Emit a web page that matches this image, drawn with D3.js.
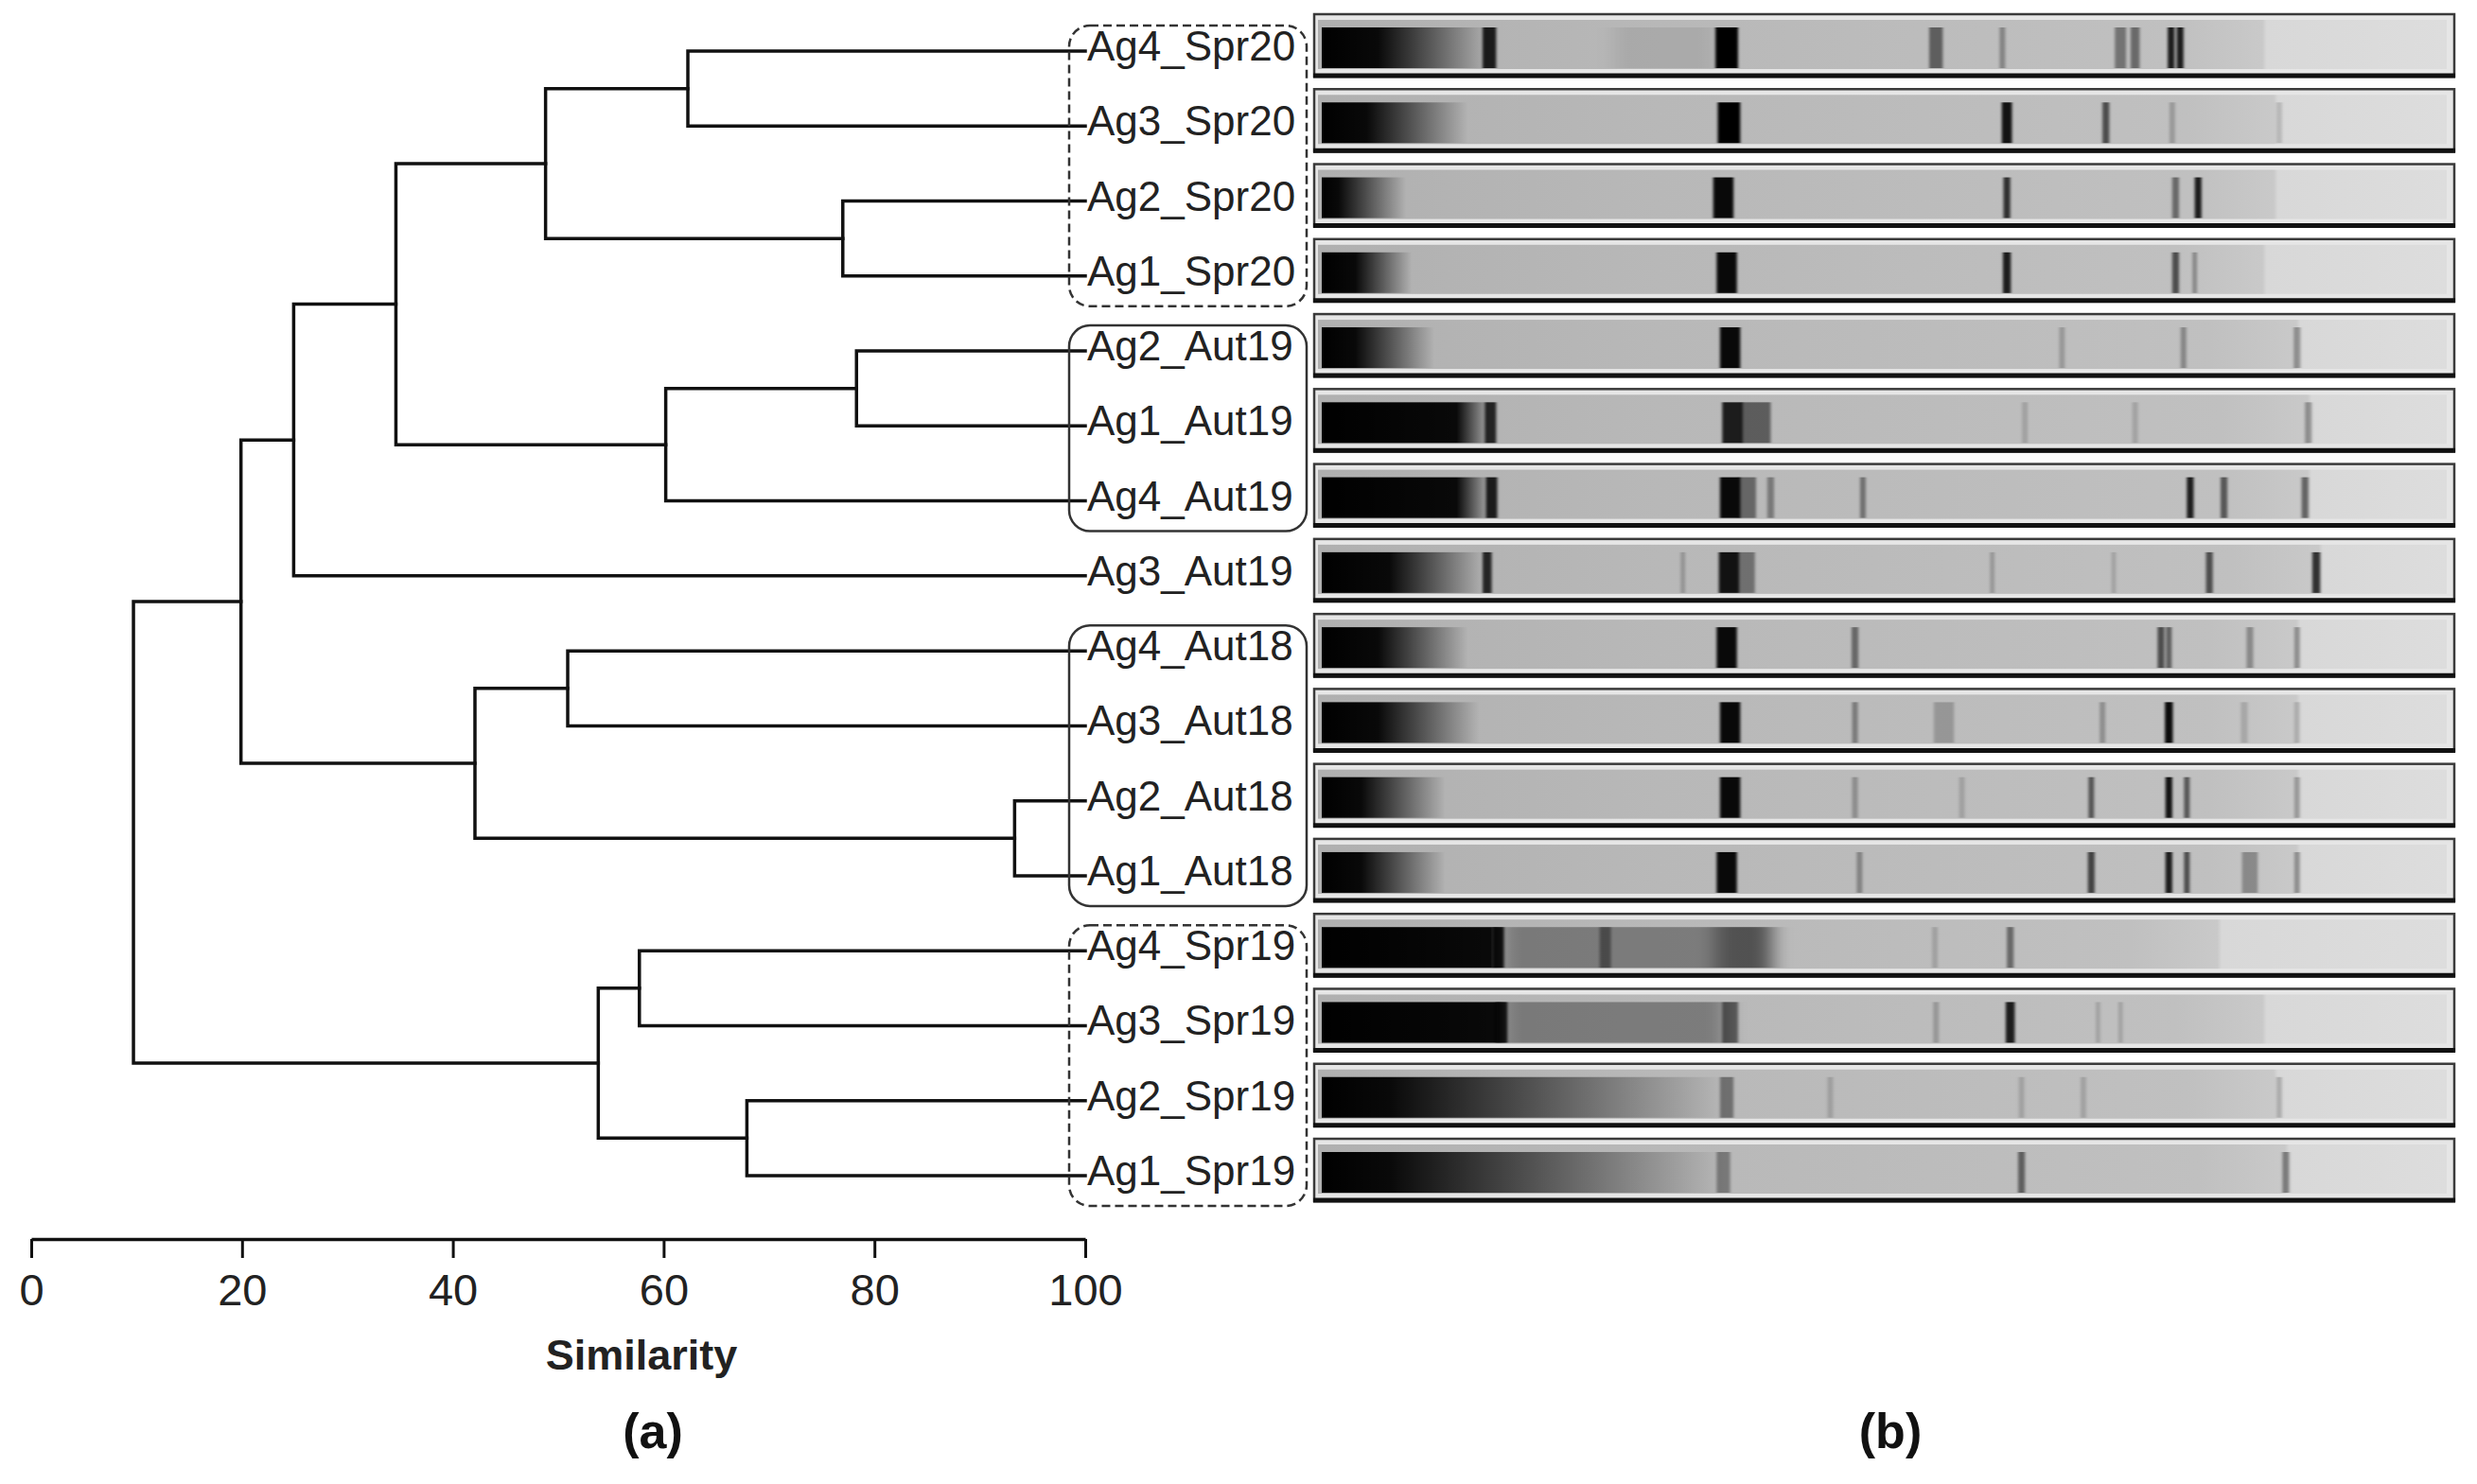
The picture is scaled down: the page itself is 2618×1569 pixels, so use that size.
<!DOCTYPE html>
<html><head><meta charset="utf-8">
<script src="https://cdn.jsdelivr.net/npm/d3@7"></script>
<style>body{margin:0;background:#fff} svg{display:block}</style>
</head><body>
<svg id="c" width="2618" height="1569"></svg>
<script>
// ---- data ----
const leaves = ["Ag4_Spr20","Ag3_Spr20","Ag2_Spr20","Ag1_Spr20",
  "Ag2_Aut19","Ag1_Aut19","Ag4_Aut19","Ag3_Aut19",
  "Ag4_Aut18","Ag3_Aut18","Ag2_Aut18","Ag1_Aut18",
  "Ag4_Spr19","Ag3_Spr19","Ag2_Spr19","Ag1_Spr19"];
// linkage: [childA, childB, similarity]; merge i is referred to as "m"+i
const linkage = [
  ["Ag4_Spr20","Ag3_Spr20",62.3],
  ["Ag2_Spr20","Ag1_Spr20",77.0],
  ["m0","m1",48.8],
  ["Ag2_Aut19","Ag1_Aut19",78.3],
  ["m3","Ag4_Aut19",60.2],
  ["m2","m4",34.6],
  ["m5","Ag3_Aut19",24.9],
  ["Ag4_Aut18","Ag3_Aut18",50.9],
  ["Ag2_Aut18","Ag1_Aut18",93.3],
  ["m7","m8",42.1],
  ["m6","m9",19.9],
  ["Ag4_Spr19","Ag3_Spr19",57.7],
  ["Ag2_Spr19","Ag1_Spr19",67.9],
  ["m11","m12",53.8],
  ["m10","m13",9.7]
];
const tickValues = [0,20,40,60,80,100];
const groups = [
  ["Ag4_Spr20","Ag1_Spr20","dashed"],
  ["Ag2_Aut19","Ag4_Aut19","solid"],
  ["Ag4_Aut18","Ag1_Aut18","solid"],
  ["Ag4_Spr19","Ag1_Spr19","dashed"]
];
// gel lanes (positions in % of lane length)
const smearCore = [5,4,1.5,3,3,12,12,6,5,5,3.5,3.5,15,15.5,6,6];
const smearEnd  = [15,13,7.5,8,10,15,15,14.5,13,14,11,11,16,16.5,36,36];
const lightFrom = [84,85,85,84,87,88,88,89,87,87,87,87,80,84,85,86];
// bands: [position, intensity, width]
const laneBands = [
  [[14.9,0.85,1.2],[30.5,0.08,9],[36.0,1,2.0],[54.6,0.5,1.2],[60.5,0.3,0.5],[71.0,0.4,1.0],[72.3,0.45,0.8],[75.5,0.85,0.6],[76.3,0.85,0.6]],
  [[36.2,1,2.0],[60.9,0.9,0.9],[69.7,0.6,0.6],[75.6,0.2,0.5],[85.1,0.15,0.5]],
  [[35.7,0.95,1.8],[60.9,0.75,0.6],[75.9,0.45,0.6],[77.9,0.85,0.6]],
  [[36.0,0.95,1.8],[60.9,0.85,0.7],[75.9,0.6,0.6],[77.6,0.3,0.4]],
  [[36.3,0.95,1.8],[65.8,0.2,0.5],[76.6,0.3,0.5],[86.7,0.3,0.6]],
  [[15.0,0.8,1.0],[36.5,0.85,1.8],[38.6,0.5,2.6],[62.5,0.15,0.5],[72.3,0.15,0.5],[87.7,0.3,0.6]],
  [[15.1,0.85,1.0],[36.3,0.95,1.8],[37.8,0.45,1.6],[39.9,0.35,0.6],[48.1,0.4,0.5],[77.2,0.85,0.6],[80.2,0.55,0.6],[87.4,0.5,0.6]],
  [[14.7,0.8,0.8],[32.1,0.2,0.4],[36.2,0.9,1.8],[37.8,0.4,1.4],[59.6,0.2,0.4],[70.4,0.15,0.4],[78.9,0.6,0.6],[88.4,0.75,0.7]],
  [[36.0,0.95,1.8],[47.4,0.45,0.6],[74.6,0.6,0.6],[75.3,0.5,0.5],[82.5,0.3,0.6],[86.7,0.3,0.5]],
  [[36.3,0.95,1.8],[47.4,0.35,0.5],[55.3,0.2,1.8],[69.4,0.25,0.5],[75.3,0.95,0.7],[82.0,0.15,0.6],[86.7,0.15,0.5]],
  [[36.3,0.95,1.8],[47.4,0.25,0.5],[56.9,0.15,0.5],[68.4,0.55,0.5],[75.3,0.9,0.6],[76.9,0.55,0.5],[86.7,0.25,0.5]],
  [[36.0,0.95,1.8],[47.8,0.3,0.5],[68.4,0.65,0.6],[75.3,0.85,0.6],[76.9,0.6,0.5],[82.5,0.3,1.4],[86.7,0.3,0.5]],
  [[15.7,0.9,1.0],[28,0.33,24],[25.2,0.4,1.0],[37.5,0.35,5],[54.5,0.15,0.5],[61.2,0.45,0.6]],
  [[16.0,0.85,1.0],[26,0.33,20],[36.3,0.5,1.4],[54.6,0.2,0.5],[61.2,0.85,0.8],[69.0,0.15,0.4],[71.0,0.15,0.4]],
  [[36.0,0.4,1.2],[45.2,0.15,0.5],[62.2,0.15,0.5],[67.7,0.15,0.5],[85.1,0.2,0.5]],
  [[35.7,0.35,1.2],[62.2,0.5,0.6],[85.7,0.4,0.6]]
];

// ---- drawing ----
const W = 2618, H = 1569;
const svg = d3.select("#c");
svg.append("rect").attr("width", W).attr("height", H).attr("fill", "#fff");
const defs = svg.append("defs");
const FONT = "'Liberation Sans', Arial, sans-serif";

const x = d3.scaleLinear().domain([0, 100]).range([33, 1147]);
const y = d3.scalePoint().domain(leaves).range([54, 1243]);

// dendrogram
const nodes = {};
leaves.forEach(l => nodes[l] = {sim: 100, y: y(l)});
linkage.forEach((m, i) => {
  const a = nodes[m[0]], b = nodes[m[1]];
  nodes["m" + i] = {sim: m[2], y: (a.y + b.y) / 2, a, b};
});
const dg = svg.append("g").attr("fill", "none").attr("stroke", "#111")
  .attr("stroke-width", 3.5).attr("stroke-linecap", "square");
linkage.forEach((m, i) => {
  const n = nodes["m" + i];
  dg.append("path").attr("d",
    `M${x(n.a.sim)},${n.a.y}H${x(n.sim)}V${n.b.y}H${x(n.b.sim)}`);
});

// axis
const axis = d3.axisBottom(x).tickValues(tickValues).tickSize(20)
  .tickSizeOuter(0).tickPadding(17).tickFormat(d3.format("d"));
const ag = svg.append("g").attr("transform", "translate(0,1310)").call(axis);
ag.select(".domain").attr("stroke", "#111").attr("stroke-width", 3.5);
ag.selectAll(".tick line").attr("stroke", "#111").attr("stroke-width", 3);
ag.selectAll(".tick text").attr("font-family", FONT).attr("font-size", 47).attr("fill", "#222");

svg.append("text").attr("x", 678).attr("y", 1448).attr("text-anchor", "middle")
  .attr("font-family", FONT).attr("font-weight", "bold").attr("font-size", 45)
  .attr("fill", "#222").text("Similarity");
svg.append("text").attr("x", 690).attr("y", 1531).attr("text-anchor", "middle")
  .attr("font-family", FONT).attr("font-weight", "bold").attr("font-size", 52)
  .attr("fill", "#111").text("(a)");
svg.append("text").attr("x", 1998).attr("y", 1531).attr("text-anchor", "middle")
  .attr("font-family", FONT).attr("font-weight", "bold").attr("font-size", 52)
  .attr("fill", "#111").text("(b)");

// leaf labels
svg.append("g").selectAll("text").data(leaves).join("text")
  .attr("x", 1149).attr("y", d => y(d) + 10)
  .attr("font-family", FONT).attr("font-size", 44).attr("fill", "#222")
  .text(d => d);

// group boxes
svg.append("g").selectAll("rect").data(groups).join("rect")
  .attr("x", 1130).attr("y", d => y(d[0]) - 27)
  .attr("width", 251).attr("height", d => y(d[1]) - y(d[0]) + 59)
  .attr("rx", 22).attr("ry", 22)
  .attr("fill", "none").attr("stroke", "#333").attr("stroke-width", 2.5)
  .attr("stroke-dasharray", d => d[2] === "dashed" ? "9,5" : null);

// gel lanes
const laneX = d3.scaleLinear().domain([0, 100]).range([1397, 2586]);
const blur = defs.append("filter").attr("id", "bandBlur")
  .attr("x", "-50%").attr("y", "-10%").attr("width", "200%").attr("height", "120%");
blur.append("feGaussianBlur").attr("stdDeviation", "1.8 0.6");
const wblur = defs.append("filter").attr("id", "wideBlur")
  .attr("x", "-20%").attr("y", "-10%").attr("width", "140%").attr("height", "120%");
wblur.append("feGaussianBlur").attr("stdDeviation", "10 0.6");

leaves.forEach((l, i) => {
  const cy = y(l), top = cy - 39, bot = cy + 27;
  const g = svg.append("g");

  const bg = defs.append("linearGradient").attr("id", "bg" + i)
    .attr("gradientUnits", "userSpaceOnUse")
    .attr("x1", laneX(0)).attr("x2", laneX(100)).attr("y1", 0).attr("y2", 0);
  const lf = lightFrom[i] / 100;
  [[0, "#b0b0b0"], [0.3, "#b8b8b8"], [lf - 0.08, "#c0c0c0"], [lf - 0.004, "#c9c9c9"],
   [lf, "#d8d8d8"], [1, "#dddddd"]].forEach(s =>
    bg.append("stop").attr("offset", s[0]).attr("stop-color", s[1]));

  g.append("rect").attr("x", 1389).attr("y", top).attr("width", 1205).attr("height", bot - top)
    .attr("fill", "#e6e6e6").attr("stroke", "#3a3a3a").attr("stroke-width", 2.5);
  g.append("rect").attr("x", laneX(0) - 4).attr("y", top + 6)
    .attr("width", laneX(100) - laneX(0) + 4).attr("height", bot - top - 14)
    .attr("fill", `url(#bg${i})`);

  const sm = defs.append("linearGradient").attr("id", "sm" + i)
    .attr("gradientUnits", "userSpaceOnUse")
    .attr("x1", laneX(0)).attr("x2", laneX(smearEnd[i])).attr("y1", 0).attr("y2", 0);
  [[0, 1], [smearCore[i] / smearEnd[i], 0.95], [1, 0]].forEach(s =>
    sm.append("stop").attr("offset", s[0]).attr("stop-color", "#000").attr("stop-opacity", s[1]));
  g.append("rect").attr("x", laneX(0)).attr("y", top + 14)
    .attr("width", laneX(smearEnd[i]) - laneX(0)).attr("height", bot - top - 23)
    .attr("fill", `url(#sm${i})`);

  const wide = laneBands[i].filter(d => d[2] > 3);
  const thin = laneBands[i].filter(d => d[2] <= 3);
  [[wide, "wideBlur"], [thin, "bandBlur"]].forEach(([arr, f]) => {
    g.append("g").attr("filter", `url(#${f})`)
      .selectAll("rect").data(arr).join("rect")
      .attr("x", d => laneX(d[0] - d[2] / 2)).attr("y", top + 14)
      .attr("width", d => laneX(d[2]) - laneX(0)).attr("height", bot - top - 23)
      .attr("fill", "#000").attr("fill-opacity", d => d[1]);
  });

  g.append("line").attr("x1", 1388).attr("x2", 2595).attr("y1", bot - 1).attr("y2", bot - 1)
    .attr("stroke", "#111").attr("stroke-width", 5);
});
</script>
</body></html>
